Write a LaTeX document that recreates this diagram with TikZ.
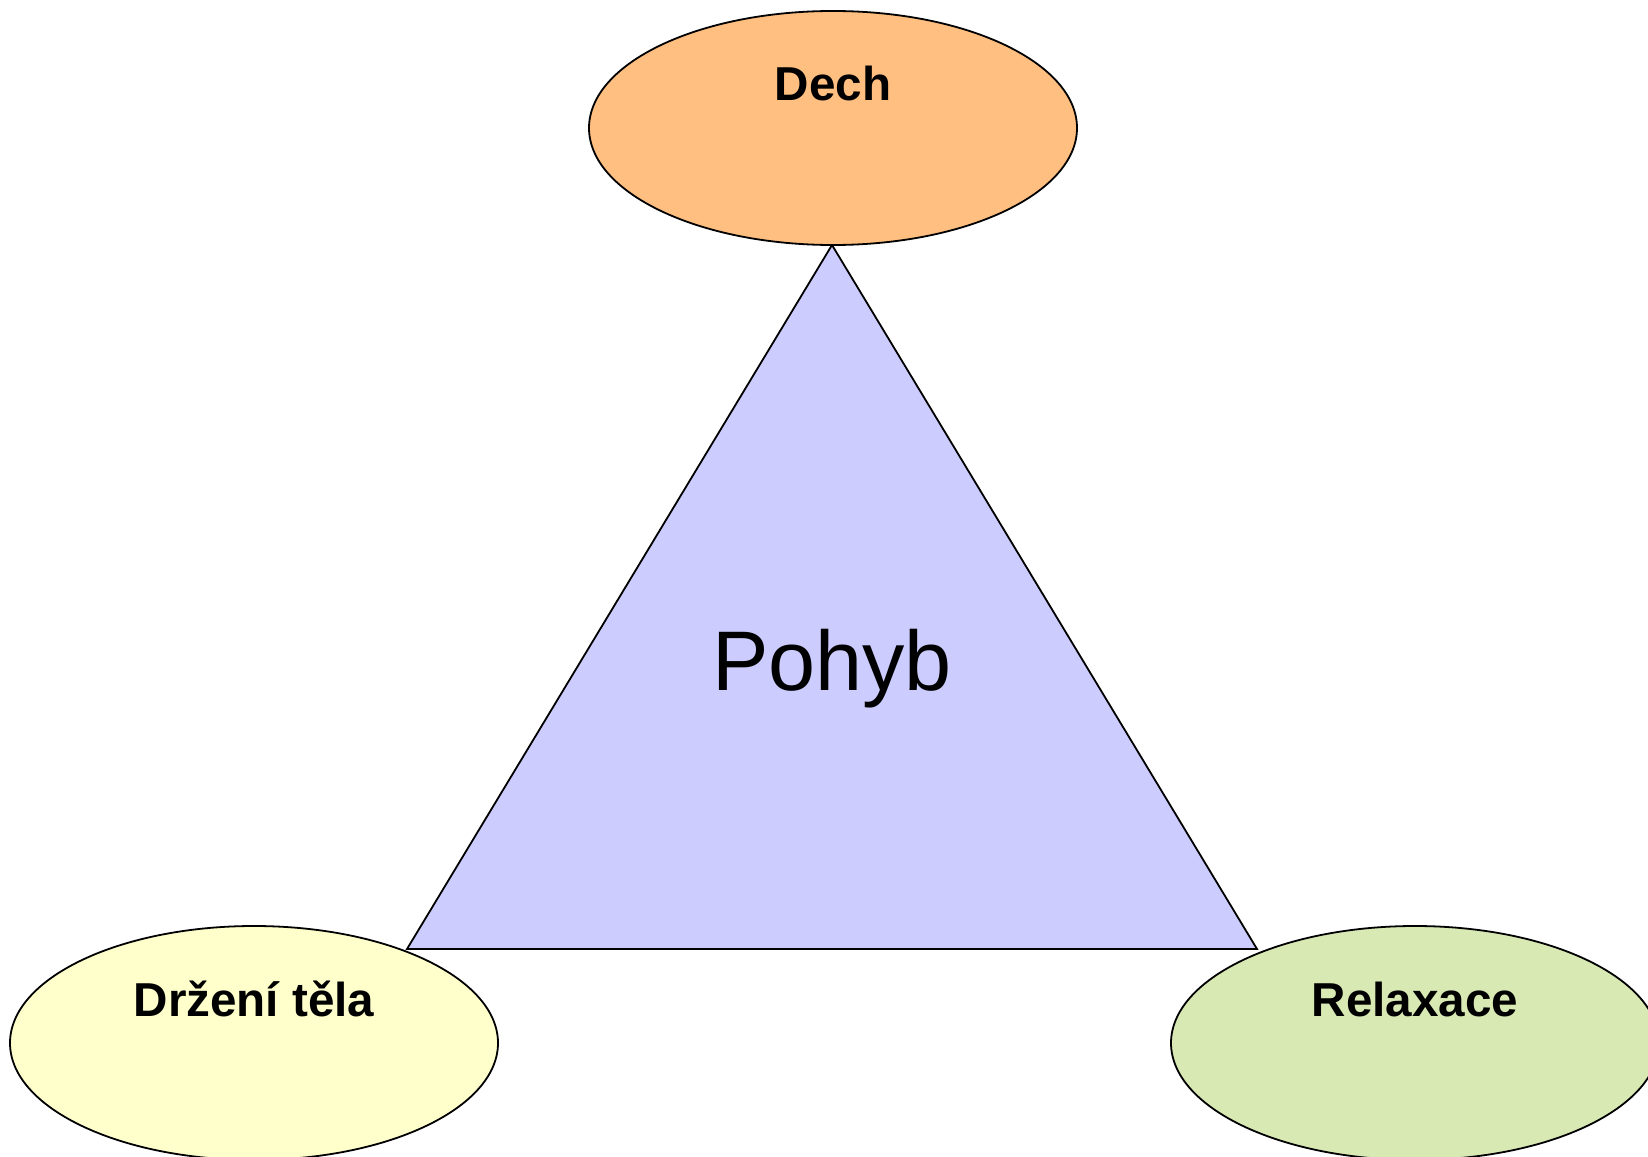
\documentclass[tikz,border=0pt]{standalone}
\usepackage{fontspec}
\setmainfont{Liberation Sans}
\usetikzlibrary{shapes.geometric}
\definecolor{dechfill}{HTML}{FFBF80}
\definecolor{drzfill}{HTML}{FFFFCC}
\definecolor{relfill}{HTML}{D8E9B4}
\definecolor{pohybfill}{HTML}{CCCCFF}
\begin{document}
\begin{tikzpicture}[
    x=0.5pt,y=-0.5pt,
    bubble/.style={draw,ellipse,line width=0.9pt,inner sep=0pt,outer sep=0pt,
      minimum width=244pt,minimum height=117pt},
    tag/.style={font=\bfseries\fontsize{23.8}{28}\selectfont,anchor=base,inner sep=0pt}
  ]
  \useasboundingbox (0,0) rectangle (1648,1156);
  \coordinate (top) at (832,245);
  \coordinate (left) at (407,949);
  \coordinate (right) at (1257,949);
  \draw[fill=pohybfill,line width=0.9pt] (top) -- (left) -- (right) -- cycle;
  \node[anchor=base,font=\fontsize{42.3}{50}\selectfont,inner sep=0pt] (pohyb) at (832,690) {Pohyb};
  \foreach \n/\x/\y/\c/\t in {dech/833/128/dechfill/Dech,
      drzeni/254/1043/drzfill/Držení těla,
      relax/1415/1043/relfill/Relaxace} {
    \node[bubble,fill=\c] (\n) at (\x,\y) {};
    \node[tag] (\n-txt) at (\x,\y-27) {\t};
  }
\end{tikzpicture}
\end{document}
